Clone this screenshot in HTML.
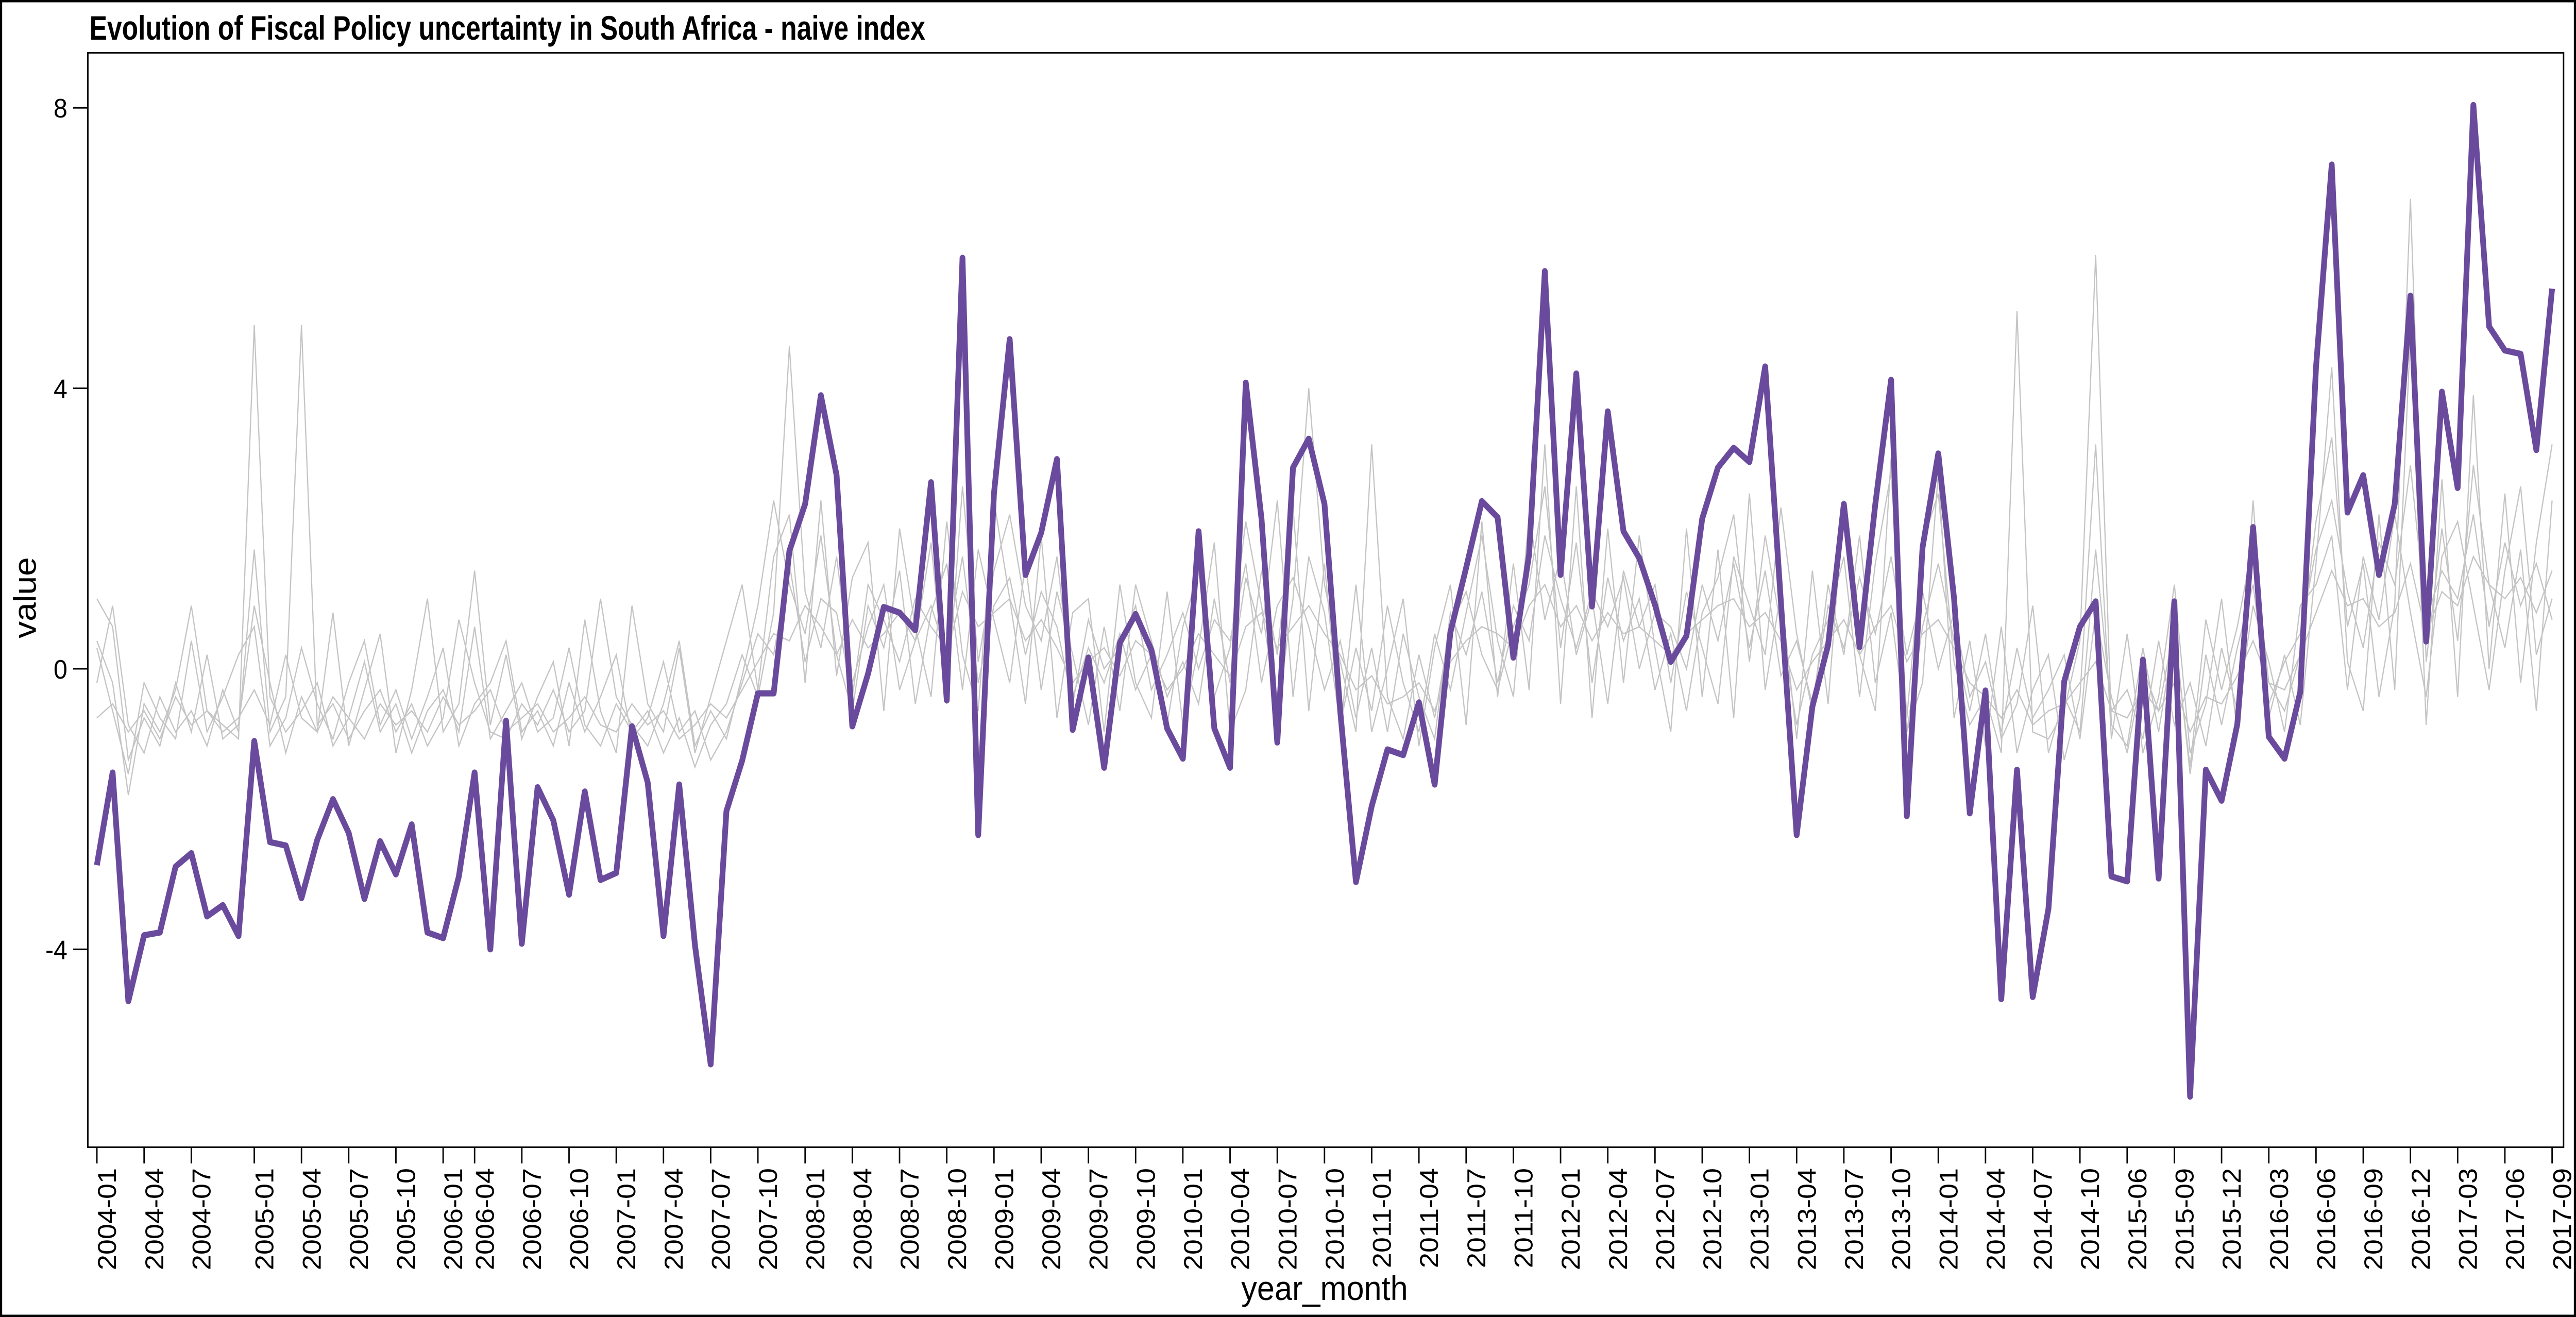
<!DOCTYPE html>
<html><head><meta charset="utf-8"><style>
html,body{margin:0;padding:0;background:#fff;overflow:hidden;width:100%;height:100%;}
svg{display:block;width:100vw;height:100vh;}
text{font-family:"Liberation Sans",Arial,sans-serif;fill:#000;}
</style></head><body>
<svg id="chart" viewBox="0 0 5387 2556" preserveAspectRatio="none" xmlns="http://www.w3.org/2000/svg">
<rect x="2" y="2" width="5383" height="2552" fill="#fff" stroke="#000" stroke-width="5"/>
<text x="187" y="77" font-size="66" font-weight="bold" textLength="1748" lengthAdjust="spacingAndGlyphs" style="font-family:'Liberation Sans Narrow','Liberation Sans',sans-serif">Evolution of Fiscal Policy uncertainty in South Africa - naive index</text>
<g id="gray-layer"></g>
<g id="main-layer"></g>
<rect x="183.7" y="102.5" width="5177.3" height="2124" fill="none" stroke="#000" stroke-width="3"/>
<g id="yaxis"></g>
<g id="xaxis"></g>
<text transform="translate(75,1160) rotate(-90)" text-anchor="middle" font-size="66">value</text>
<text x="2770" y="2523" text-anchor="middle" font-size="66">year_month</text>
</svg>
<script>
const missingMonths = ["2004-09","2004-11","2006-02","2014-12","2015-01","2015-02","2015-03","2015-04"];
const tickLabels = ["2004-01","2004-04","2004-07","2005-01","2005-04","2005-07","2005-10","2006-01","2006-04","2006-07","2006-10","2007-01","2007-04","2007-07","2007-10","2008-01","2008-04","2008-07","2008-10","2009-01","2009-04","2009-07","2009-10","2010-01","2010-04","2010-07","2010-10","2011-01","2011-04","2011-07","2011-10","2012-01","2012-04","2012-07","2012-10","2013-01","2013-04","2013-07","2013-10","2014-01","2014-04","2014-07","2014-10","2015-06","2015-09","2015-12","2016-03","2016-06","2016-09","2016-12","2017-03","2017-06","2017-09"];
const yTicks = [-4,0,4,8];
const naiveIndex = [-2.8,-1.48,-4.74,-3.8,-3.76,-2.82,-2.63,-3.53,-3.37,-3.81,
-1.03,-2.47,-2.52,-3.27,-2.44,-1.86,-2.34,-3.28,-2.46,-2.93,
-2.22,-3.76,-3.84,-2.96,-1.48,-4.0,-0.74,-3.92,-1.69,-2.16,
-3.22,-1.75,-3.01,-2.91,-0.82,-1.62,-3.81,-1.65,-3.94,-5.64,
-2.03,-1.31,-0.35,-0.35,1.68,2.35,3.9,2.76,-0.82,-0.07,
0.88,0.8,0.55,2.66,-0.45,5.86,-2.37,2.5,4.7,1.34,
1.94,2.99,-0.87,0.16,-1.41,0.37,0.78,0.27,-0.85,-1.28,
1.96,-0.85,-1.41,4.08,2.14,-1.05,2.87,3.28,2.35,-0.6,
-3.04,-1.96,-1.15,-1.23,-0.48,-1.65,0.52,1.44,2.39,2.16,
0.16,1.63,5.67,1.34,4.21,0.89,3.67,1.96,1.58,0.91,
0.1,0.47,2.14,2.87,3.15,2.95,4.31,0.95,-2.37,-0.54,
0.34,2.35,0.31,2.35,4.12,-2.1,1.73,3.07,1.01,-2.06,
-0.31,-4.71,-1.44,-4.68,-3.42,-0.18,0.6,0.96,-2.96,-3.03,
0.13,-2.99,0.96,-6.10,-1.44,-1.88,-0.79,2.02,-0.97,-1.28,
-0.33,4.3,7.19,2.23,2.76,1.34,2.35,5.32,0.39,3.95,
2.58,8.04,4.88,4.54,4.49,3.12,5.42];
const gray1 = [0.4,-0.2,-1.8,-0.5,-0.9,-0.3,0.9,-0.6,-0.8,-1.0,4.9,-0.4,-0.9,-0.6,-0.2,-1.1,-0.7,0.1,-0.9,-0.5,-1.2,-0.6,-0.3,-0.9,0.6,-1.0,-0.6,-0.2,-0.9,-0.7,0.3,-0.8,-1.1,-0.5,-0.9,-0.6,-1.2,-0.7,-1.4,-0.8,-0.5,0.2,-0.4,0.8,4.6,1.1,0.3,1.6,-0.2,0.6,1.2,-0.3,0.4,1.8,-0.5,2.6,0.1,1.4,2.2,0.9,0.4,1.6,-0.4,0.3,-0.2,0.5,-0.3,0.2,-0.8,0.6,1.4,-0.4,0.3,2.1,0.9,-0.6,1.0,4.0,1.2,0.1,-0.9,3.2,-0.4,-1.0,0.2,-0.7,0.6,1.1,0.2,-0.3,0.6,1.2,2.6,0.3,1.8,-0.2,1.3,0.4,1.0,-0.3,0.5,-0.6,0.8,1.3,2.2,0.1,1.9,0.6,-0.8,0.2,0.7,1.6,-0.4,1.5,2.8,-0.7,1.8,2.5,0.1,-0.8,-0.4,-1.2,5.1,-0.9,-1.0,-0.6,0.4,5.9,-0.8,-1.1,0.3,-0.9,0.5,-1.4,0.7,-0.3,0.6,1.8,-0.2,-0.6,0.2,2.1,3.3,0.6,1.5,-0.4,0.9,6.7,0.1,2.0,0.4,2.9,1.2,0.3,1.7,-0.6,2.4];
const gray2 = [-0.2,0.9,-0.8,-1.2,-0.4,-0.9,-0.6,-1.1,-0.3,-0.9,1.7,-0.9,-0.4,4.9,-0.8,-0.5,-1.0,-0.6,-0.3,-0.9,-0.5,-1.1,-0.7,0.7,-0.2,-0.9,-1.0,-0.5,-0.8,-0.3,-0.9,-0.6,1.0,-0.4,-0.8,-1.1,-0.5,0.4,-1.1,-0.6,-1.0,-0.1,0.9,2.4,1.2,0.5,1.9,0.2,-0.6,0.9,0.3,1.4,-0.5,0.8,1.5,-0.3,1.7,0.7,-0.2,1.5,-0.3,1.1,0.2,-0.8,0.6,-0.6,1.2,0.4,-0.4,0.1,-0.5,1.0,-0.2,1.3,0.5,2.4,-0.4,1.6,0.8,-0.8,0.3,-0.6,0.9,-0.2,-0.9,0.5,-0.3,0.8,1.9,0.4,-0.4,2.2,0.7,1.6,0.2,1.0,-0.5,1.4,0.6,1.2,-0.2,1.1,0.3,-0.5,1.6,0.9,0.2,2.3,0.5,-0.6,1.2,0.2,1.9,-0.2,0.8,-0.9,0.6,1.5,0.4,-0.6,0.5,-1.0,-0.5,0.9,-1.2,-0.4,-0.9,1.7,-0.6,-0.3,-1.0,0.4,-0.8,-0.2,-1.1,0.3,-0.6,0.9,0.1,-0.9,0.9,1.2,1.9,-0.3,1.6,0.7,2.2,0.8,-0.4,1.6,2.1,0.9,-0.3,1.4,2.6,0.2,1.0];
const gray3 = [-0.7,-0.5,-0.9,-0.6,-1.0,-0.4,-0.8,-0.6,-0.9,-0.7,-0.3,-0.8,0.2,-0.7,-0.9,-0.4,-0.7,-1.0,-0.5,-0.8,-0.6,-0.9,-0.4,-0.8,-0.6,-0.3,-0.9,-0.7,-0.5,-0.9,-0.7,-0.4,-0.8,-0.9,-0.5,-0.8,-0.6,-1.0,-0.8,-0.5,-0.7,-0.3,0.1,0.5,0.4,0.9,0.6,0.2,0.7,0.3,0.5,0.8,0.4,0.9,0.2,1.1,0.6,0.8,1.0,0.4,0.7,0.3,-0.2,0.1,0.3,-0.1,0.4,0.2,-0.3,0.0,0.5,0.2,-0.1,0.6,0.8,0.3,0.6,0.9,0.5,0.2,-0.3,-0.1,-0.5,-0.4,-0.2,-0.6,0.1,0.4,0.6,0.5,0.3,0.9,1.2,0.6,0.9,0.4,0.8,0.5,0.6,0.4,0.2,0.5,0.7,0.9,1.0,0.6,0.8,0.4,-0.3,0.1,0.4,0.7,0.2,0.6,0.9,0.1,0.5,0.7,0.3,-0.2,-0.4,-0.7,-0.3,-0.8,-0.6,-0.5,-0.2,0.1,-0.6,-0.7,-0.3,-0.6,-0.2,-0.9,-0.4,-0.5,-0.1,0.4,-0.2,-0.3,0.2,0.8,1.4,0.9,1.0,0.6,0.8,1.5,0.5,1.1,0.9,1.6,1.2,1.0,1.3,0.8,1.4];
const gray4 = [1.0,0.6,-1.3,-0.7,-1.1,-0.2,-0.9,0.2,-1.0,-0.8,0.9,-0.2,-1.2,-0.4,-0.9,0.8,-1.1,-0.3,0.5,-1.2,-0.3,1.0,-0.9,-0.5,1.4,-0.8,0.2,-1.0,-0.4,0.1,-1.1,0.7,-0.6,-1.2,0.9,-0.5,-0.9,0.3,-1.2,-0.4,0.4,1.2,-0.3,1.6,2.2,-0.2,2.4,-0.1,1.3,1.8,-0.6,2.0,0.6,-0.4,2.1,0.2,-0.6,2.4,1.0,-0.5,1.9,-0.7,0.8,1.0,-0.9,1.2,-0.2,-0.7,1.1,-0.8,0.3,1.8,-0.9,-0.3,1.4,0.2,2.3,-0.6,1.5,-0.9,1.2,-0.9,0.0,1.0,-1.1,0.3,1.2,-0.8,2.1,-0.4,1.5,-0.3,3.2,-0.5,2.6,-0.7,2.0,-0.2,1.9,0.3,-0.9,2.0,-0.4,1.7,-0.7,2.5,-0.3,1.1,-1.0,1.4,-0.5,2.4,0.2,-0.6,3.0,-0.9,-0.2,2.8,-0.7,0.4,-1.1,0.6,-1.2,-0.3,0.2,-1.3,-0.4,3.2,-1.0,0.5,-1.2,-0.4,1.2,-1.2,-0.5,1.0,-0.9,2.4,-0.7,0.2,-0.8,1.5,4.3,0.1,-0.6,2.2,-0.3,4.8,-0.8,2.7,-0.4,3.9,0.0,2.5,-0.2,1.8,3.2];
const gray5 = [0.3,-0.6,-1.5,-0.2,-0.7,-1.0,0.4,-0.9,-0.4,0.2,0.6,-1.1,-0.7,0.3,-0.5,-1.0,-0.2,0.4,-0.8,-0.3,-1.0,-0.4,0.3,-1.1,-0.5,-0.2,0.4,-0.9,-0.6,-1.1,-0.2,-0.9,-0.4,0.2,-1.0,-0.7,0.1,-0.9,-0.6,-1.3,-0.9,-0.2,0.5,0.2,1.5,0.1,1.0,0.8,-0.4,1.2,0.7,0.1,1.0,0.6,0.3,1.6,-0.2,0.9,1.3,0.2,1.1,0.6,-0.5,0.7,0.0,0.3,0.9,-0.3,0.2,0.8,0.0,0.7,0.4,1.5,-0.2,0.9,1.3,0.6,-0.3,0.4,-0.7,0.3,-0.9,0.5,-0.4,-1.0,0.8,0.2,1.1,-0.2,0.9,0.4,1.9,1.0,0.3,1.1,0.6,1.3,0.0,0.8,0.6,0.0,1.2,0.4,1.5,0.3,1.4,-0.1,0.4,-0.5,0.9,0.3,1.3,0.5,1.6,0.2,1.1,0.0,0.8,-0.4,0.1,-0.9,0.3,-0.7,-0.3,0.2,-1.0,0.8,-0.4,-1.2,0.0,-0.6,0.6,-1.5,0.2,-0.8,0.3,1.2,-0.5,0.1,0.5,1.7,2.4,1.1,0.3,1.8,1.2,2.9,0.7,1.4,1.0,2.2,0.6,1.8,0.9,1.5,0.7];

const categories = [];
for (let y = 2004; y <= 2017; y++) {
  for (let m = 1; m <= 12; m++) {
    if (y === 2017 && m > 9) break;
    const lab = y + "-" + (m < 10 ? "0" + m : "" + m);
    if (missingMonths.indexOf(lab) === -1) categories.push(lab);
  }
}

const NS = "http://www.w3.org/2000/svg";
const X0 = 202.6, X1 = 5337, Y0 = 1298, PPU = 136.1;
function xScale(i) { return X0 + i * (X1 - X0) / (categories.length - 1); }
function yScale(v) { return Y0 - v * PPU; }
function pathFor(vals) {
  let d = "";
  for (let i = 0; i < vals.length && i < categories.length; i++) {
    d += (i === 0 ? "M" : "L") + xScale(i).toFixed(1) + "," + yScale(vals[i]).toFixed(1);
  }
  return d;
}

const grayLayer = document.getElementById("gray-layer");
const grays = [gray1, gray2, gray3, gray4, gray5];
grays.forEach(function (g, k) {
  const p = document.createElementNS(NS, "path");
  p.setAttribute("d", pathFor(g));
  p.setAttribute("fill", "none");
  p.setAttribute("stroke", "#c4c4c4");
  p.setAttribute("stroke-width", "2.5");
  
  
  grayLayer.appendChild(p);
});

const mainLayer = document.getElementById("main-layer");
const mp = document.createElementNS(NS, "path");
mp.setAttribute("d", pathFor(naiveIndex));
mp.setAttribute("fill", "none");
mp.setAttribute("stroke", "#6a4a9c");
mp.setAttribute("stroke-width", "12");
mp.setAttribute("stroke-linejoin", "round");


mainLayer.appendChild(mp);

const yaxis = document.getElementById("yaxis");
yTicks.forEach(function (v) {
  const yy = yScale(v);
  const l = document.createElementNS(NS, "line");
  l.setAttribute("x1", 153); l.setAttribute("x2", 183.7);
  l.setAttribute("y1", yy); l.setAttribute("y2", yy);
  l.setAttribute("stroke", "#000"); l.setAttribute("stroke-width", "3");
  
  
  yaxis.appendChild(l);
  const t = document.createElementNS(NS, "text");
  t.setAttribute("x", 141); t.setAttribute("y", yy + 19);
  t.setAttribute("text-anchor", "end"); t.setAttribute("font-size", "52");
  t.textContent = String(v);
  
  
  yaxis.appendChild(t);
});

const xaxis = document.getElementById("xaxis");
tickLabels.forEach(function (lab) {
  const i = categories.indexOf(lab);
  if (i < 0) return;
  const xx = xScale(i);
  const l = document.createElementNS(NS, "line");
  l.setAttribute("x1", xx); l.setAttribute("x2", xx);
  l.setAttribute("y1", 2226); l.setAttribute("y2", 2258);
  l.setAttribute("stroke", "#000"); l.setAttribute("stroke-width", "3");
  
  
  xaxis.appendChild(l);
  const t = document.createElementNS(NS, "text");
  t.setAttribute("transform", "translate(" + xx.toFixed(1) + ",2267) rotate(-90)");
  t.setAttribute("text-anchor", "end");
  t.setAttribute("dy", "0.74em");
  t.setAttribute("font-size", "54");
  t.textContent = lab;
  
  
  xaxis.appendChild(t);
});
</script>
</body></html>
